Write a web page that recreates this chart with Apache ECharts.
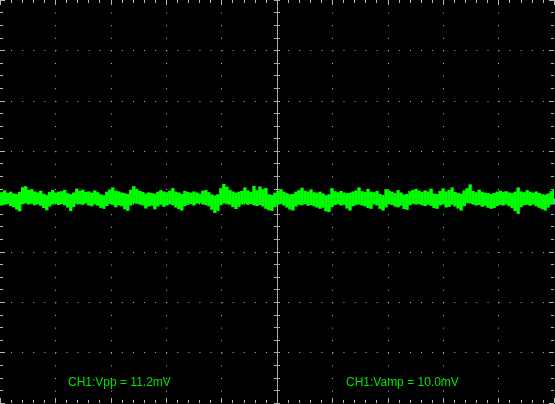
<!DOCTYPE html>
<html>
<head>
<meta charset="utf-8">
<script src="https://cdn.jsdelivr.net/npm/echarts@6/dist/echarts.min.js"></script>
<style>
html,body{margin:0;padding:0;background:#000;}
#chart{width:555px;height:404px;}
</style>
</head>
<body>
<div id="chart"></div>
<script>
// Time axis: divisions (10 across), voltage axis: mV (20 mV/div, 8 divs)
const timeMin = -5, timeMax = 5, timeDiv = 1;
const voltMin = -80, voltMax = 80, voltDiv = 20;
const sampleStep = 0.0542; // divisions per acquisition bin

// Upper envelope of the trace per bin (mV)
const traceHigh = [
  3.7,4.4,3.4,3.9,3.2,3.0,3.8,5.7,6.1,4.6, 4.9,4.0,3.6,4.3,3.1,2.6,3.8,4.5,3.5,3.9,
  4.1,4.6,3.3,2.9,3.6,5.1,4.2,4.7,3.8,4.0, 3.5,4.4,3.7,2.9,2.5,3.9,4.8,5.6,4.3,4.0,
  3.6,3.3,3.0,4.7,6.1,5.0,4.2,3.8,3.2,3.6, 3.4,3.1,3.9,4.5,4.0,3.7,4.3,5.3,3.9,3.6,
  3.0,4.2,
  3.8,3.5,4.0,3.6,3.1,4.3,4.5,3.7,2.8,2.4, 2.9,5.3,7.0,5.9,4.6,4.0,3.5,3.9,4.2,5.6,
  4.4,3.8,6.2,4.5,6.0,4.9,5.4,2.9,2.6,3.5, 4.2,4.9,3.9,3.3,2.9,3.0,3.9,4.5,5.5,4.3,
  4.0,4.8,3.7,3.5,3.9,3.2,2.5,2.9,5.3,4.1, 3.7,4.2,3.6,3.3,3.5,4.0,4.4,5.6,4.1,3.8,
  5.0,3.9,
  3.7,4.2,3.0,2.6,4.9,4.4,3.9,3.3,4.5,3.6, 2.8,3.0,4.1,4.6,5.0,4.3,3.8,4.4,4.0,5.1,
  3.2,3.0,4.2,5.2,4.0,4.6,5.6,3.8,3.4,3.1, 4.4,5.3,6.8,4.2,3.7,4.7,3.9,3.5,3.3,3.0,
  3.4,3.9,4.3,3.8,4.1,3.6,3.3,3.9,5.6,4.0, 3.7,4.5,3.9,3.5,4.0,3.4,2.9,2.7,3.2,4.1,
  5.0,3.8
];
// Lower envelope of the trace per bin (mV)
const traceLow = [
  -1.6,-1.3,-1.0,-1.8,-2.3,-3.2,-3.9,-1.0,-0.8,-1.2, -0.9,-1.5,-1.1,-1.7,-2.6,-3.5,-2.0,-1.2,-0.9,-1.4,
  -1.0,-1.5,-2.4,-3.8,-2.2,-0.9,-1.1,-1.3,-0.8,-1.6, -1.9,-1.2,-1.7,-2.5,-2.9,-1.8,-1.0,-1.3,-2.3,-1.5,
  -1.9,-3.1,-3.7,-1.6,-0.7,-0.9,-1.2,-1.6,-2.8,-2.0, -1.7,-3.1,-2.0,-1.3,-2.1,-1.6,-1.1,-1.5,-2.4,-3.0,
  -3.6,-1.9,
  -1.3,-1.0,-1.6,-0.9,-0.7,-1.2,-1.4,-1.9,-3.3,-4.6, -3.7,-1.5,-0.8,-1.1,-1.3,-2.2,-3.0,-2.1,-1.2,-0.9,
  -1.3,-1.0,-1.5,-1.8,-1.4,-2.0,-2.9,-3.5,-3.7,-2.3, -1.3,-1.0,-1.6,-2.4,-3.2,-3.6,-2.0,-1.3,-1.5,-1.0,
  -1.7,-1.4,-1.9,-2.4,-2.9,-2.5,-3.9,-4.2,-2.3,-1.4, -1.1,-1.6,-1.3,-2.8,-3.6,-1.9,-1.4,-1.2,-1.6,-1.9,
  -2.6,-2.9,
  -1.2,-1.6,-2.9,-3.6,-2.4,-1.0,-1.4,-2.0,-2.3,-1.7, -3.0,-3.3,-1.5,-0.9,-1.2,-1.0,-1.5,-1.8,-1.3,-1.7,
  -2.6,-2.9,-1.6,-1.1,-2.4,-2.1,-1.3,-2.0,-2.8,-3.6, -1.9,-0.6,-0.8,-1.2,-1.6,-1.4,-2.1,-1.7,-2.5,-2.9,
  -2.6,-1.8,-1.3,-1.6,-1.2,-1.9,-2.7,-3.8,-4.9,-2.2, -1.5,-1.3,-1.7,-1.2,-1.9,-2.5,-3.1,-3.6,-2.4,-1.3,
  -1.1,-1.5
];
const measureLabels = ['CH1:Vpp = 11.2mV', 'CH1:Vamp = 10.0mV'];

// One envelope column per acquisition bin: [time, high, low]
const traceData = traceHigh.map((h, i) => [timeMin + i * sampleStep, h, traceLow[i]]);

const GRID = '#b4b4b4';
const CENTER = '#a8a8a8';
const TRACE = '#00ff00';
const TEXT = '#00e400';

function edgeX(pos, split) {
  return {
    type: 'value', min: timeMin, max: timeMax, interval: timeDiv, position: pos,
    axisLine: { show: false, onZero: false },
    axisTick: { show: true, inside: true, length: 5, lineStyle: { color: GRID } },
    minorTick: { show: true, splitNumber: 5, length: 3, lineStyle: { color: GRID } },
    axisLabel: { show: false },
    splitLine: split ? { show: true, showMinLine: false, showMaxLine: false,
      lineStyle: { color: GRID, width: 1, type: [1, 11.6] } } : { show: false },
    minorSplitLine: { show: false }
  };
}
function edgeY(pos, split) {
  return {
    type: 'value', min: voltMin, max: voltMax, interval: voltDiv, position: pos,
    axisLine: { show: false, onZero: false },
    axisTick: { show: true, inside: true, length: 5, lineStyle: { color: GRID } },
    minorTick: { show: true, splitNumber: 4, length: 3, lineStyle: { color: GRID } },
    axisLabel: { show: false },
    splitLine: split ? { show: true, showMinLine: false, showMaxLine: false,
      lineStyle: { color: GRID, width: 1, type: [1, 10.08] } } : { show: false },
    minorSplitLine: { show: false }
  };
}
function centerX(inside) {
  return {
    type: 'value', min: timeMin, max: timeMax, interval: timeDiv, position: 'bottom',
    axisLine: { show: true, onZero: true, onZeroAxisIndex: 0, lineStyle: { color: CENTER, width: 1 } },
    axisTick: { show: true, inside: inside, length: 3, lineStyle: { color: CENTER } },
    minorTick: { show: true, splitNumber: 5, length: 3, lineStyle: { color: CENTER } },
    axisLabel: { show: false }, splitLine: { show: false }
  };
}
function centerY(inside) {
  return {
    type: 'value', min: voltMin, max: voltMax, interval: voltDiv, position: 'left',
    axisLine: { show: true, onZero: true, onZeroAxisIndex: 0, lineStyle: { color: CENTER, width: 1 } },
    axisTick: { show: true, inside: inside, length: 3, lineStyle: { color: CENTER } },
    minorTick: { show: true, splitNumber: 4, length: 3, lineStyle: { color: CENTER } },
    axisLabel: { show: false }, splitLine: { show: false }
  };
}

const chart = echarts.init(document.getElementById('chart'), null, { renderer: 'canvas' });
chart.setOption({
  backgroundColor: '#000000',
  animation: false,
  grid: { left: 0, top: 0, width: 554, height: 403, containLabel: false },
  xAxis: [edgeX('bottom', true), edgeX('top', false), centerX(true), centerX(false)],
  yAxis: [edgeY('left', true), edgeY('right', false), centerY(true), centerY(false)],
  series: [{
    type: 'custom', xAxisIndex: 0, yAxisIndex: 0, z: 5, clip: true,
    data: traceData,
    encode: { x: 0, y: [1, 2] },
    renderItem: function (params, api) {
      const t = api.value(0);
      const top = api.coord([t, api.value(1)]);
      const bot = api.coord([t + sampleStep, api.value(2)]);
      return {
        type: 'rect',
        shape: { x: top[0], y: top[1], width: bot[0] - top[0] + 0.4, height: bot[1] - top[1] },
        style: { fill: TRACE }
      };
    }
  }],
  graphic: [
    { type: 'text', left: 68, top: 377, z: 10,
      style: { text: measureLabels[0], fill: TEXT, font: '12px "Liberation Sans", Arial, sans-serif' } },
    { type: 'text', left: 346, top: 377, z: 10,
      style: { text: measureLabels[1], fill: TEXT, font: '12px "Liberation Sans", Arial, sans-serif' } }
  ]
});
</script>
</body>
</html>
